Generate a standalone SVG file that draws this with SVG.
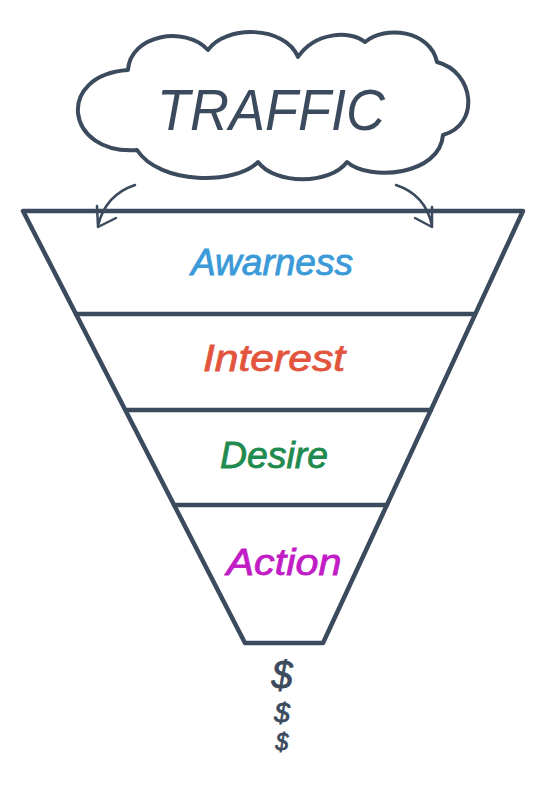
<svg xmlns="http://www.w3.org/2000/svg" width="550" height="795" viewBox="0 0 550 795">
<style>
.ln{fill:none;stroke:#3b4a5d;stroke-linecap:round;stroke-linejoin:round}
.hand{font-family:"Liberation Sans","DejaVu Sans",sans-serif;font-style:italic;text-anchor:middle}
.lbl{stroke-width:0.8}
</style>
<rect width="550" height="795" fill="#ffffff"/>
<g id="traffic">
<path class="ln" stroke-width="4" d="M128,70 C130,35 185,25 208,50 C225,25 285,25 298,57 C315,32 350,30 365,42 C385,25 430,30 437,62 C475,72 480,125 443,135 C440,175 370,182 347,162 C330,185 275,185 258,162 C235,185 160,185 137,150 C65,155 55,75 128,70 Z"/>
<text class="hand" x="271" y="130" font-size="58" fill="#3b4a5d" textLength="228" lengthAdjust="spacingAndGlyphs">TRAFFIC</text>
</g>
<g id="connectors">
<path class="ln" stroke-width="2.5" d="M135,185 Q105,195 98,226 M97,206 L98,227 L116,218"/>
<path class="ln" stroke-width="2.5" d="M396,185 Q426,195 432,226 M432,207 L432,227 L415,218"/>
</g>
<g id="funnel">
<path class="ln" stroke-width="4.5" d="M23,211 L523,211 L323,643 L245,643 Z"/>
<path class="ln" stroke-width="4.5" d="M76,314 L475,314 M126,410 L431,410 M174,505 L387,505"/>
</g>
<g id="awareness"><text class="hand lbl" x="272" y="275" font-size="36" fill="#3b9ad8" stroke="#3b9ad8" textLength="162" lengthAdjust="spacingAndGlyphs">Awarness</text></g>
<g id="interest"><text class="hand lbl" x="274" y="371" font-size="36" fill="#e2553c" stroke="#e2553c" textLength="142" lengthAdjust="spacingAndGlyphs">Interest</text></g>
<g id="desire"><text class="hand lbl" x="274" y="468" font-size="37" fill="#1f8b4f" stroke="#1f8b4f" textLength="108" lengthAdjust="spacingAndGlyphs">Desire</text></g>
<g id="action"><text class="hand lbl" x="284" y="575" font-size="37" fill="#c21cc6" stroke="#c21cc6" textLength="115" lengthAdjust="spacingAndGlyphs">Action</text></g>
<g id="money" fill="#3b4a5d" stroke="#3b4a5d" stroke-width="0.8">
<text class="hand" x="282" y="688" font-size="38">$</text>
<text class="hand" x="282" y="722" font-size="28">$</text>
<text class="hand" x="282" y="750" font-size="23">$</text>
</g>
</svg>
